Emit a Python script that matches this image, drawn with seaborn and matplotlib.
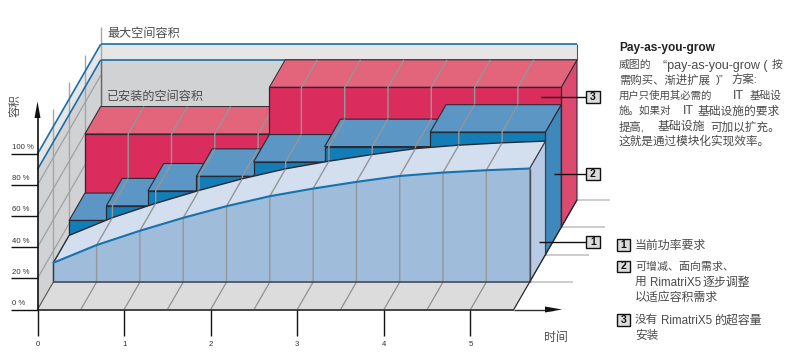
import numpy as np
import pandas as pd
import matplotlib
matplotlib.use("Agg")
import matplotlib.pyplot as plt
import seaborn as sns

sns.set_theme(style="white")
FONT = ['Liberation Sans', 'Noto Sans CJK SC', 'DejaVu Sans']
plt.rcParams['font.family'] = FONT

# ---- data ----
time_ticks = [0, 1, 2, 3, 4, 5]
pct_ticks = [0, 20, 40, 60, 80, 100]
pct_labels = ['0 %', '20 %', '40 %', '60 %', '80 %', '100 %']
grid_times = [0, .5, 1, 1.5, 2, 2.5, 3, 3.5, 4, 4.5, 5, 5.5]
demand = [12.4, 23.8, 33, 41.3, 48.8, 55.2, 60.1, 64.4, 68.2, 70.4, 71.9, 73]
step_edges = [0, .43, .91, 1.47, 2.13, 2.95, 4.17, 5.5]
step_levels = [22, 31.4, 41, 50.4, 59.6, 69.5, 78.8]
over_edges = [0, 2.13, 5.5]
over_levels = [60, 90]
installed = 90
maximum = 100
t_end = 5.5

# ---- oblique projection: depth layers shift time / percent ----
W, H = 797, 354
PX_T, PX_P, X0, Y0 = 86.6, 1.556, 37.5, 309.5
OX, OY = 15.8 / PX_T, 27.4 / PX_P

fig = plt.figure(figsize=(W / 100, H / 100), dpi=100)
ax = fig.add_axes([0, 0, 1, 1])
ax.set_xlim((0 - X0) / PX_T, (W - X0) / PX_T)
ax.set_ylim((Y0 - H) / PX_P, Y0 / PX_P)
ax.axis('off')


def P(t, p, d=0):
    return t + d * OX, p + d * OY


def poly(pts, fc, ec='none', lw=0.9, z=1):
    xs, ys = zip(*pts)
    ax.fill(xs, ys, facecolor=fc, edgecolor=ec, linewidth=lw, zorder=z, joinstyle='miter')


def line(pts, c='#949698', lw=1.0, z=2, **kw):
    xs, ys = zip(*pts)
    ax.plot(xs, ys, color=c, lw=lw, zorder=z, solid_capstyle='butt', **kw)


def in_span(a, b):
    return [t for t in grid_times[1:-1] if a <= t < b]


WALL, BAND = '#d1d2d4', '#e6e6e7'
BLUE_LINE = '#1a6fa8'
EDGE = '#2a2a33'

# right-hand guide lines
for d, xe in zip([1, 2, 3, 4], [573, 589, 605, 610]):
    line([P(t_end, 0, d), ((xe - X0) / PX_T, 0 + d * OY)], c='#c4c4c4', lw=1.2, z=0.5)

# left wall, back wall
poly([P(0, 0), P(0, 0, 4), P(0, installed, 4), P(0, installed)], WALL)
poly([P(0, installed), P(0, installed, 4), P(0, maximum, 4), P(0, maximum)], BAND)
poly([P(0, 0, 4), P(t_end, 0, 4), P(t_end, installed, 4), P(0, installed, 4)], WALL)
poly([P(0, installed, 4), P(t_end, installed, 4), P(t_end, maximum, 4), P(0, maximum, 4)], BAND)
line([P(t_end, installed, 4), P(t_end, maximum, 4)], c='#555555', lw=0.8, z=1.2)
for d in [1, 2, 3, 4]:
    line([P(0, 0, d), P(0, 111, d)], c='#a5a6a8', lw=1.0, z=1.1)
for p in pct_ticks[1:-1]:
    line([P(0, p), P(0, p, 4)], c='#a0a1a3', lw=0.9, z=1.1)
line([P(0, 0, 4), P(0, installed, 4)], c='#666666', lw=1.0, z=1.2)
for a, b in [(P(0, installed), P(0, installed, 4)), (P(0, installed, 4), P(t_end, installed, 4)),
             (P(0, maximum), P(0, maximum, 4)), (P(0, maximum, 4), P(t_end, maximum, 4))]:
    line([a, b], c=BLUE_LINE, lw=1.2, z=1.3)

# floor
poly([P(0, 0), P(t_end, 0), P(t_end, 0, 1), P(0, 0, 1)], '#dcdcdd', z=1.5)

# red (over-capacity) block
RED, RED_T, RED_S = '#db2c5e', '#e3657b', '#dc4a6f'
poly([P(t_end, 0, 3), P(t_end, 0, 4), P(t_end, over_levels[-1], 4), P(t_end, over_levels[-1], 3)],
     RED_S, EDGE, 0.8, z=2)
for i, lv in enumerate(over_levels):
    a, b = over_edges[i], over_edges[i + 1]
    zz = 2 + i * .1
    poly([P(a, lv, 3), P(b, lv, 3), P(b, lv, 4), P(a, lv, 4)], RED_T, EDGE, 0.7, z=zz)
    poly([P(a, 0, 3), P(b, 0, 3), P(b, lv, 3), P(a, lv, 3)], RED, EDGE, 0.9, z=zz + .01)
    for t in in_span(a, b):
        line([P(t, 0, 3), P(t, lv, 3), P(t, lv, 4)], z=zz + .02)

# blue steps
BL, BL_T, BL_S = '#127db7', '#5b96c4', '#3f88bc'
poly([P(t_end, 0, 2), P(t_end, 0, 3), P(t_end, step_levels[-1], 3), P(t_end, step_levels[-1], 2)],
     BL_S, EDGE, 0.8, z=3)
for i, lv in enumerate(step_levels):
    a, b = step_edges[i], step_edges[i + 1]
    zz = 3 + i * .05
    poly([P(a, lv, 2), P(b, lv, 2), P(b, lv, 3), P(a, lv, 3)], BL_T, EDGE, 0.8, z=zz)
    poly([P(a, 0, 2), P(b, 0, 2), P(b, lv, 2), P(a, lv, 2)], BL, EDGE, 0.9, z=zz + .01)
    for t in in_span(a, b):
        line([P(t, 0, 2), P(t, lv, 2), P(t, lv, 3)], z=zz + .02)

# demand body: side, top surface, front
poly([P(t_end, 0, 1), P(t_end, 0, 2), P(t_end, demand[-1], 2), P(t_end, demand[-1], 1)],
     '#b8cbe3', '#3a3a44', 0.7, z=4)
top = [P(t, v, 1) for t, v in zip(grid_times, demand)]
back = [P(t, v, 2) for t, v in zip(grid_times, demand)]
poly(top + back[::-1], '#d3dfef', z=4.1)
line(back, c=EDGE, lw=1.0, z=4.2)
line([top[0], back[0]], c=EDGE, lw=1.0, z=4.2)
line([top[-1], back[-1]], c='#3a3a44', lw=0.8, z=4.2)
poly([P(0, 0, 1)] + top + [P(t_end, 0, 1)], '#a0bcdb', z=4.3)
line([P(0, 0, 1), top[0]], c='#333340', lw=1.0, z=4.7)
line([P(t_end, 0, 1), top[-1]], c='#4a4a55', lw=1.0, z=4.7)
line([P(0, 0, 1), P(t_end, 0, 1)], c='#4a4a55', lw=1.2, z=4.7)
for t, v in zip(grid_times[1:-1], demand[1:-1]):
    line([P(t, 0), P(t, 0, 1)], c='#8f9193', lw=0.9, z=4.4)
    line([P(t, 0, 1), P(t, v, 1), P(t, v, 2)], c='#949698', lw=1.0, z=4.4)
curve = pd.DataFrame({'x': [q[0] for q in top], 'y': [q[1] for q in top]})
sns.lineplot(data=curve, x='x', y='y', ax=ax, color='#1573ad', lw=1.5, sort=False,
             errorbar=None, estimator=None, zorder=4.6, legend=False)
ax.axis('off')
line([P(0, 0), P(0, 0, 1)], c='#555555', lw=0.8, z=4.8)
line([P(t_end, 0), P(t_end, 0, 4)], c=EDGE, lw=0.9, z=4.8)

# axes
line([P(0, 0), P(t_end, 0)], c='#444444', lw=1.4, z=5)
line([P(t_end, 0), ((553 - X0) / PX_T, 0)], c='#333333', lw=1.0, z=5)
line([P(0, 0), (0, (Y0 - 112) / PX_P)], c='#111111', lw=1.2, z=5)
# arrow heads
ax.fill([(545 - X0) / PX_T, (562 - X0) / PX_T, (545 - X0) / PX_T], [-3.0 / PX_P, 0, 3.0 / PX_P],
        color='#111111', zorder=6, linewidth=0)
ax.fill([-3 / PX_T, 0, 3 / PX_T], [(Y0 - 118) / PX_P, (Y0 - 101.5) / PX_P, (Y0 - 118) / PX_P],
        color='#111111', zorder=6, linewidth=0)

tx = (11 - X0) / PX_T
for p, s in zip(pct_ticks, pct_labels):
    line([(tx, p), (0, p)], c='#111111', lw=1.0, z=5)
    ax.text((12 - X0) / PX_T, p + 6.2 / PX_P, s, fontsize=5.6, color='#333333', ha='left', va='center', zorder=6)
for t in time_ticks:
    line([(t, 0), (t, -26.2 / PX_P)], c='#111111', lw=1.0, z=5)
    ax.text(t, -34.5 / PX_P, str(t), fontsize=5.6, color='#333333', ha='center', va='center', zorder=6)


# ---- texts placed in pixel position ----
def T(xp, yp, s, **kw):
    kw.setdefault('fontsize', 7.5)
    kw.setdefault('color', '#4a4a4a')
    kw.setdefault('va', 'center_baseline')
    kw.setdefault('ha', 'left')
    fig.text(xp / W, 1 - yp / H, s, zorder=8, **kw)


def box(x0, y0, x1, y1, s):
    xx, yy = [x0 / W, x1 / W, x1 / W, x0 / W], [1 - y0 / H, 1 - y0 / H, 1 - y1 / H, 1 - y1 / H]
    fig.patches.append(plt.Polygon(list(zip(xx, yy)), closed=True, transform=fig.transFigure,
                                   facecolor='#dcdcdd', edgecolor='#111111', linewidth=1.0, zorder=7))
    T((x0 + x1) / 2, (y0 + y1) / 2, s, ha='center', va='center', fontsize=7.5, fontweight='bold', color='#111111')


T(107, 33, '最大空间容积', fontsize=8.7)
T(107, 94.7, '已安装的空间容积', fontsize=8.7)
T(15.5, 106, '容积', fontsize=8.2, rotation=90, ha='center', va='center')
T(556, 336.7, '时间', fontsize=8.6, ha='center')

for y, xs, s in [(96.7, 541, '3'), (173.7, 554, '2'), (241.7, 539, '1')]:
    line([((xs - X0) / PX_T, (Y0 - y) / PX_P), ((586 - X0) / PX_T, (Y0 - y) / PX_P)], c='#111111', lw=1.0, z=6)
    box(586.3, y - 6.2, 599.7, y + 6.4, s)

T(619, 46.7, 'Pay-as-you-grow', fontsize=8.6, fontweight='bold', color='#222222')

# body text: (y, [(x, text, size), ...]) laid out to match the justified lines
body = [
    (64.3, [(619, '威图的', 7.8), (663, '“pay-as-you-grow (', 9.0), (771.5, '按', 7.8)]),
    (79.3, [(619, '需购买、渐进扩展', 8.2), (716, ')”', 8.2), (731.5, '方案:', 8.2)]),
    (94.3, [(619, '用户只使用其必需的', 7.5), (733, 'IT', 9.0), (750, '基础设', 7.7)]),
    (110, [(619, '施。如果对', 7.6), (683, 'IT', 9.0), (697.5, '基础设施的要求', 8.5)]),
    (125.7, [(619, '提高,', 8.2), (658, '基础设施', 8.6), (710, '可加以扩充。', 8.4)]),
    (140, [(619, '这就是通过模块化实现效率。', 8.4)]),
]
for y, segs in body:
    for x, s, fs in segs:
        T(x, y, s, fontsize=fs)

box(616.7, 239, 630, 250.5, '1')
T(635, 244.5, '当前功率要求', fontsize=8.6)
box(616.7, 260.7, 630, 272, '2')
T(635, 266, '可增减、面向需求、', fontsize=7.9)
T(635, 281, '用', fontsize=8.4)
T(650, 281, 'RimatriX5', fontsize=8.4)
T(703, 281, '逐步调整', fontsize=8.6)
T(635, 296, '以适应容积需求', fontsize=8.6)
box(616.7, 314, 630, 325.5, '3')
T(635, 319, '没有', fontsize=8.4)
T(661.5, 319, 'RimatriX5', fontsize=8.4)
T(715, 319, '的超容量', fontsize=8.6)
T(635, 334, '安装', fontsize=8.4)

fig.savefig('out.png', dpi=100, facecolor='white')
